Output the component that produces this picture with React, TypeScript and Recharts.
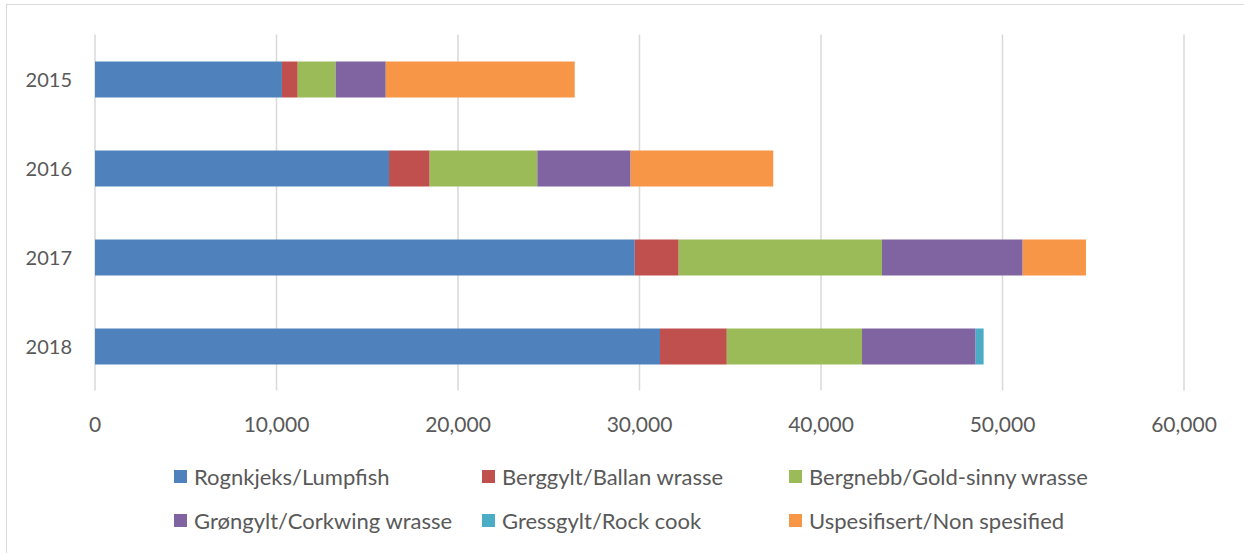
import React from "react";
import { BarChart, Bar, XAxis, YAxis, CartesianGrid } from "recharts";

// Years shown on the category axis (top to bottom)
const years = ["2015", "2016", "2017", "2018"];

// Series labels and colours
const seriesNames = [
  "Rognkjeks/Lumpfish",
  "Berggylt/Ballan wrasse",
  "Bergnebb/Gold-sinny wrasse",
  "Grøngylt/Corkwing wrasse",
  "Gressgylt/Rock cook",
  "Uspesifisert/Non spesified",
];
const seriesColors = ["#4F81BD", "#C0504D", "#9BBB59", "#8064A2", "#4BACC6", "#F79646"];

// Values per series, one entry per year
const lumpfish = [10300, 16200, 29740, 31130];
const ballan = [870, 2240, 2420, 3680];
const goldsinny = [2090, 5930, 11200, 7450];
const corkwing = [2760, 5140, 7750, 6260];
const rockcook = [0, 0, 0, 440];
const unspecified = [10410, 7860, 3490, 0];

const seriesValues = [lumpfish, ballan, goldsinny, corkwing, rockcook, unspecified];
const seriesKeys = ["s0", "s1", "s2", "s3", "s4", "s5"];

const xTicks = [0, 10000, 20000, 30000, 40000, 50000, 60000];

const rows = years.map((year, i) => {
  const row: Record<string, string | number> = { year };
  seriesKeys.forEach((k, j) => {
    row[k] = seriesValues[j][i];
  });
  return row;
});

const FONT = "Lato, 'Open Sans', sans-serif";
const TEXT = "#595959";

const fmt = (v: number) => v.toLocaleString("en-US");

const XTick = (props: any) => {
  const { x, y, payload } = props;
  return (
    <text x={x} y={y + 25} textAnchor="middle" dominantBaseline="central" fill={TEXT} fontSize={21} fontFamily={FONT}>
      {fmt(payload.value)}
    </text>
  );
};

const YTick = (props: any) => {
  const { x, y, payload } = props;
  return (
    <text x={x - 15} y={y} textAnchor="end" dominantBaseline="central" fill={TEXT} fontSize={20} fontFamily={FONT}>
      {payload.value}
    </text>
  );
};

const legendCols = [174, 482, 789];
const legendRows = [476, 520];

export default function App() {
  return (
    <div style={{ position: "absolute", left: 0, top: 0, width: 1244, height: 553, background: "#fff", overflow: "hidden" }}>
      <div
        style={{
          position: "absolute",
          left: 6,
          top: 4,
          width: 1260,
          height: 570,
          borderTop: "1.5px solid #d9d9d9",
          borderLeft: "1.5px solid #d9d9d9",
        }}
      />
      <div style={{ position: "absolute", left: 0, top: 0 }}>
        <BarChart
          width={1244}
          height={553}
          data={rows}
          layout="vertical"
          margin={{ top: 34.5, right: 60, bottom: 132.5, left: 0 }}
          barSize={36}
        >
          <CartesianGrid horizontal={false} stroke="#d9d9d9" strokeWidth={1.5} />
          <XAxis
            type="number"
            domain={[0, 60000]}
            ticks={xTicks}
            axisLine={false}
            tickLine={false}
            tick={<XTick />}
            height={30}
            interval={0}
          />
          <YAxis
            type="category"
            dataKey="year"
            axisLine={false}
            tickLine={false}
            tick={<YTick />}
            width={95}
          />
          {seriesKeys.map((k, j) => (
            <Bar key={k} dataKey={k} name={seriesNames[j]} stackId="a" fill={seriesColors[j]} isAnimationActive={false} />
          ))}
        </BarChart>
      </div>
      {seriesNames.map((name, j) => {
        const col = j % 3;
        const row = Math.floor(j / 3);
        return (
          <div
            key={name}
            style={{
              position: "absolute",
              left: legendCols[col],
              top: legendRows[row] - 13,
              height: 26,
              display: "flex",
              alignItems: "center",
              fontFamily: FONT,
              fontSize: 22,
              color: TEXT,
              whiteSpace: "nowrap",
            }}
          >
            <span style={{ display: "inline-block", width: 13, height: 13, background: seriesColors[j], marginRight: 7 }} />
            {name}
          </div>
        );
      })}
    </div>
  );
}
